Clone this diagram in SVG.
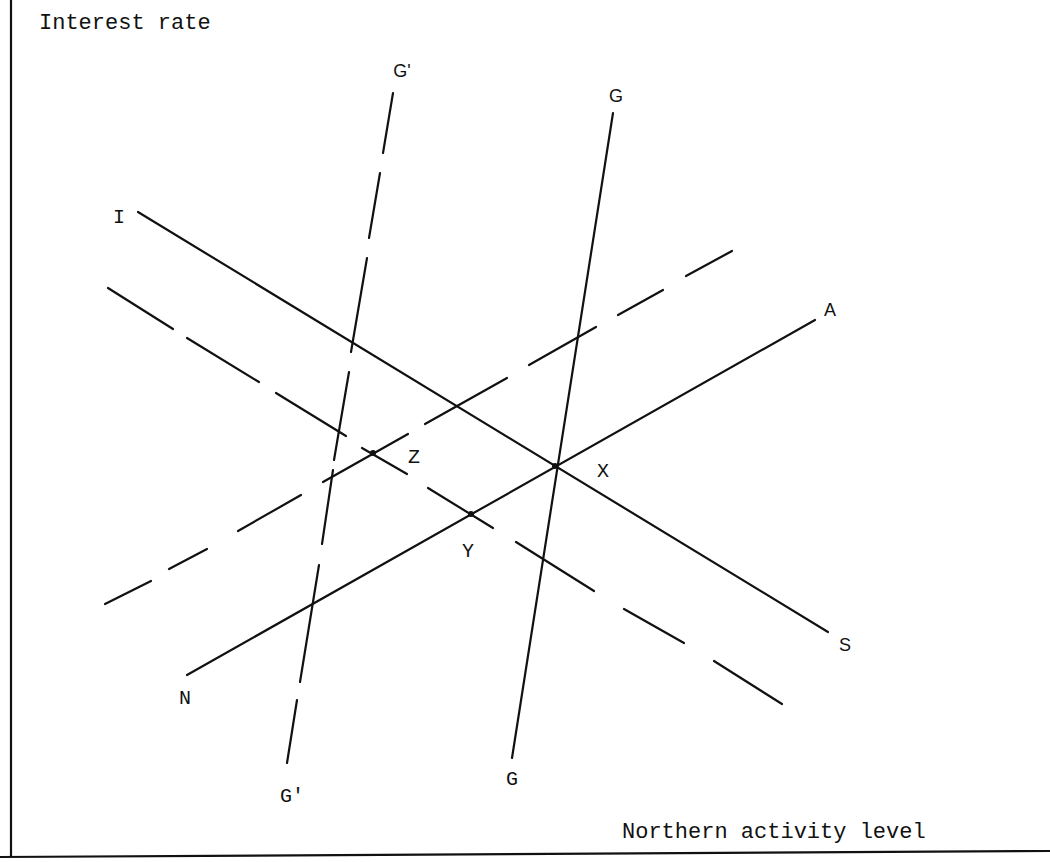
<svg xmlns="http://www.w3.org/2000/svg" width="1050" height="862" viewBox="0 0 1050 862">
<style>
.ln{stroke:#111;stroke-width:2.2;fill:none;stroke-linecap:round}
.ax{stroke:#111;stroke-width:2.2;fill:none}
.mono{font-family:"Liberation Mono","Courier New",monospace;fill:#111}
.sans{font-family:"Liberation Sans",Arial,sans-serif;fill:#111}
.pt{fill:#111}
</style>
<rect width="1050" height="862" fill="#fff"/>
<g id="axes">
<line class="ax" x1="11" y1="0" x2="11" y2="857"/>
<line class="ax" x1="0" y1="857" x2="1050" y2="851"/>
<text class="mono" x="39" y="29" font-size="22">Interest rate</text>
<text class="mono" x="622" y="838" font-size="22">Northern activity level</text>
</g>
<g id="connectors">
<g id="IS"><line class="ln" x1="138" y1="212" x2="828" y2="632"/></g>
<g id="NA"><line class="ln" x1="187" y1="675" x2="815" y2="320"/></g>
<g id="GG"><line class="ln" x1="613" y1="113" x2="512" y2="758"/></g>
<g id="IS-shifted"><path class="ln" d="M108,288L173,329M187,338L259,382M276,393L346,436M362,448L407,474M428,488L493,528M516,542L594,591M624,609L684,643M714,661L782,704"/></g>
<g id="NA-shifted"><path class="ln" d="M105,604L151,581M169,569L207,549M238,531L301,495M323,482L408,434M425,424L507,378M529,365L596,327M618,315L663,290M686,276L732,251"/></g>
<g id="GG-shifted"><path class="ln" d="M393,93L383,153M380,173L369,238M367,258L351,352M349,372L334,460M333,470L322,544M319,565L300,682M297,700L287,763"/></g>
</g>
<g id="points">
<circle class="pt" cx="555" cy="466" r="3"/>
<circle class="pt" cx="471" cy="514" r="3"/>
<circle class="pt" cx="373" cy="453" r="3"/>
</g>
<g id="labels">
<text class="sans" x="402" y="77" font-size="18" text-anchor="middle">G'</text>
<text class="sans" x="616" y="102" font-size="18" text-anchor="middle">G</text>
<text class="mono" x="119" y="223" font-size="20" text-anchor="middle">I</text>
<text class="sans" x="830" y="316" font-size="18" text-anchor="middle">A</text>
<text class="sans" x="845" y="651" font-size="18" text-anchor="middle">S</text>
<text class="mono" x="185" y="704" font-size="20" text-anchor="middle">N</text>
<text class="mono" x="603" y="477" font-size="20" text-anchor="middle">X</text>
<text class="mono" x="468" y="557" font-size="20" text-anchor="middle">Y</text>
<text class="mono" x="414" y="463" font-size="20" text-anchor="middle">Z</text>
<text class="mono" x="292" y="802" font-size="20" text-anchor="middle">G'</text>
<text class="mono" x="512" y="785" font-size="20" text-anchor="middle">G</text>
</g>
</svg>
